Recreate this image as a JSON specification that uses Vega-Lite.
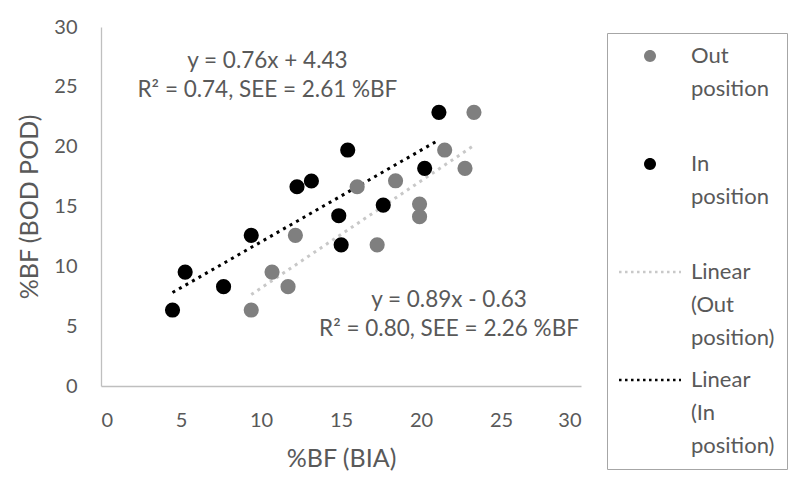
{
  "$schema": "https://vega.github.io/schema/vega-lite/v6.json",
  "width": 480,
  "height": 359,
  "autosize": {"type": "none"},
  "padding": {"left": 101, "top": 27, "right": 219, "bottom": 100},
  "background": "white",
  "config": {
    "view": {"stroke": null},
    "font": "Lato",
    "axis": {
      "grid": false,
      "ticks": false,
      "tickSize": 0,
      "domainColor": "#bfbfbf",
      "domainWidth": 1.3,
      "labelColor": "#595959",
      "labelFontSize": 20,
      "labelFont": "Lato",
      "titleColor": "#595959",
      "titleFontSize": 25,
      "titleFontWeight": "normal",
      "titleFont": "Lato"
    }
  },
  "datasets": {
    "points": [
      {"bia": 21.12, "bodpod": 22.87, "group": "In position", "trend": "Linear (In position)"},
      {"bia": 15.42, "bodpod": 19.72, "group": "In position", "trend": "Linear (In position)"},
      {"bia": 12.25, "bodpod": 16.65, "group": "In position", "trend": "Linear (In position)"},
      {"bia": 13.15, "bodpod": 17.13, "group": "In position", "trend": "Linear (In position)"},
      {"bia": 20.23, "bodpod": 18.19, "group": "In position", "trend": "Linear (In position)"},
      {"bia": 17.64, "bodpod": 15.12, "group": "In position", "trend": "Linear (In position)"},
      {"bia": 14.86, "bodpod": 14.23, "group": "In position", "trend": "Linear (In position)"},
      {"bia": 9.39, "bodpod": 12.59, "group": "In position", "trend": "Linear (In position)"},
      {"bia": 15.01, "bodpod": 11.8, "group": "In position", "trend": "Linear (In position)"},
      {"bia": 5.26, "bodpod": 9.52, "group": "In position", "trend": "Linear (In position)"},
      {"bia": 7.66, "bodpod": 8.3, "group": "In position", "trend": "Linear (In position)"},
      {"bia": 4.47, "bodpod": 6.35, "group": "In position", "trend": "Linear (In position)"},
      {"bia": 23.31, "bodpod": 22.87, "group": "Out position", "trend": "Linear (Out position)"},
      {"bia": 21.48, "bodpod": 19.72, "group": "Out position", "trend": "Linear (Out position)"},
      {"bia": 22.75, "bodpod": 18.19, "group": "Out position", "trend": "Linear (Out position)"},
      {"bia": 16.01, "bodpod": 16.65, "group": "Out position", "trend": "Linear (Out position)"},
      {"bia": 18.41, "bodpod": 17.15, "group": "Out position", "trend": "Linear (Out position)"},
      {"bia": 19.91, "bodpod": 15.2, "group": "Out position", "trend": "Linear (Out position)"},
      {"bia": 19.91, "bodpod": 14.15, "group": "Out position", "trend": "Linear (Out position)"},
      {"bia": 12.15, "bodpod": 12.59, "group": "Out position", "trend": "Linear (Out position)"},
      {"bia": 17.26, "bodpod": 11.8, "group": "Out position", "trend": "Linear (Out position)"},
      {"bia": 10.69, "bodpod": 9.52, "group": "Out position", "trend": "Linear (Out position)"},
      {"bia": 11.69, "bodpod": 8.3, "group": "Out position", "trend": "Linear (Out position)"},
      {"bia": 9.39, "bodpod": 6.35, "group": "Out position", "trend": "Linear (Out position)"}
    ],
    "notes": [
      {"bia": 10.4, "bodpod": 28.05, "label": ["y = 0.76x + 4.43", "R² = 0.74, SEE = 2.61 %BF"]},
      {"bia": 21.75, "bodpod": 8.1, "label": ["y = 0.89x - 0.63", "R² = 0.80, SEE = 2.26 %BF"]}
    ]
  },
  "encoding": {
    "x": {
      "field": "bia",
      "type": "quantitative",
      "title": "%BF (BIA)",
      "scale": {"domain": [0, 30], "nice": false},
      "axis": {"values": [0, 5, 10, 15, 20, 25, 30], "labelPadding": 24, "titlePadding": 16}
    },
    "y": {
      "field": "bodpod",
      "type": "quantitative",
      "title": "%BF (BOD POD)",
      "scale": {"domain": [0, 30], "nice": false},
      "axis": {"values": [0, 5, 10, 15, 20, 25, 30], "labelPadding": 24, "titlePadding": 11}
    }
  },
  "layer": [
    {
      "data": {"name": "points"},
      "transform": [
        {"regression": "bodpod", "on": "bia", "groupby": ["trend"]}
      ],
      "mark": {"type": "line", "strokeWidth": 3, "strokeDash": [3, 4.5]},
      "encoding": {
        "color": {
          "field": "trend",
          "type": "nominal",
          "scale": {
            "domain": ["Out position", "In position", "Linear (Out position)", "Linear (In position)"],
            "range": ["#7f7f7f", "#000000", "#c8c8c8", "#000000"]
          },
          "legend": {
            "title": null,
            "orient": "none",
            "legendX": 506,
            "legendY": 6,
            "padding": 12,
            "columns": 1,
            "gridAlign": "all",
            "strokeColor": "#a6a6a6",
            "fillColor": "white",
            "symbolSize": 361,
            "symbolStrokeWidth": 2.5,
            "symbolDash": [2.5, 3.5],
            "symbolOffset": 20,
            "labelFontSize": 22,
            "labelColor": "#595959",
            "labelFont": "Lato",
            "labelOffset": 30,
            "labelLimit": 200,
            "rowPadding": 20,
            "labelExpr": "split(datum.label, ' ')",
            "encode": {
              "symbols": {
                "update": {
                  "shape": {"signal": "indexof(datum.value, 'Linear') === 0 ? 'M-3.26,0H3.26' : 'M-0.63,0A0.63,0.63,0,1,1,0.63,0A0.63,0.63,0,1,1,-0.63,0Z'"},
                  "fill": {"signal": "datum.value === 'Out position' ? '#7f7f7f' : datum.value === 'In position' ? '#000000' : 'transparent'"},
                  "stroke": {"signal": "datum.value === 'Linear (Out position)' ? '#c8c8c8' : datum.value === 'Linear (In position)' ? '#000000' : 'transparent'"},
                  "strokeOpacity": {"signal": "indexof(datum.value, 'Linear') === 0 ? 1 : 0"}
                }
              },
              "labels": {
                "update": {
                  "lineHeight": {"value": 33}
                }
              }
            }
          }
        }
      }
    },
    {
      "data": {"name": "points"},
      "mark": {"type": "circle", "size": 230, "opacity": 1},
      "encoding": {
        "color": {"field": "group", "type": "nominal"}
      }
    },
    {
      "data": {"name": "notes"},
      "mark": {"type": "text", "fontSize": 22.5, "color": "#595959", "baseline": "top", "align": "center", "lineHeight": 28.5, "font": "Lato"},
      "encoding": {"text": {"field": "label"}}
    }
  ]
}
